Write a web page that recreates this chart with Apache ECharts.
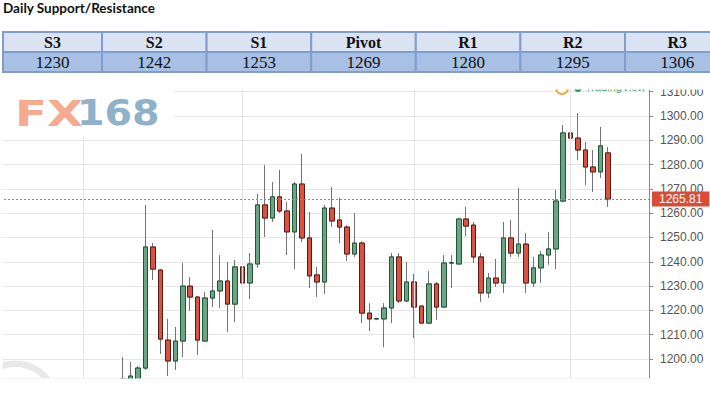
<!DOCTYPE html>
<html><head><meta charset="utf-8">
<script src="https://cdn.jsdelivr.net/npm/echarts@6/dist/echarts.min.js"></script>
<style>html,body{margin:0;padding:0;background:#fff;}#c{width:710px;height:396px;}</style>
</head><body><div id="c"></div>
<script>
// ---------- data ----------
const tableTitle = 'Daily Support/Resistance';
const levelNames = ['S3', 'S2', 'S1', 'Pivot', 'R1', 'R2', 'R3'];
const levelValues = [1230, 1242, 1253, 1269, 1280, 1295, 1306];

// daily gold candles (visible part of the chart), oldest first
const opens = [1188, 1189, 1190, 1196.3, 1246.1, 1236.6, 1207.8, 1199.2, 1207.4, 1230.0,
  1225.5, 1207.4, 1225.1, 1228.0, 1232.1, 1222.6, 1237.9, 1231.3, 1239.1, 1263.4,
  1258.0, 1266.7, 1260.9, 1252.3, 1272.0, 1249.8, 1234.6, 1231.7, 1262.1, 1257.2,
  1254.3, 1243.2, 1247.7, 1218.9, 1216.5, 1216.5, 1221.0, 1242.0, 1223.9, 1231.7,
  1221.8, 1214.8, 1230.9, 1221.4, 1239.5, 1239.1, 1257.6, 1255.1, 1242.0, 1227.2,
  1233.3, 1231.3, 1249.8, 1243.6, 1247.3, 1231.3, 1237.5, 1242.8, 1245.3, 1265.0,
  1293.0, 1290.9, 1286.0, 1279.0, 1277.0, 1284.8];
const closes = [1192, 1193, 1196.3, 1246.1, 1237.0, 1208.2, 1199.2, 1207.4, 1230.0, 1225.5,
  1207.8, 1225.1, 1228.0, 1232.1, 1222.6, 1237.9, 1231.3, 1239.1, 1263.4, 1258.0,
  1266.7, 1260.9, 1252.3, 1272.0, 1249.8, 1234.2, 1231.7, 1262.1, 1256.8, 1254.3,
  1243.2, 1247.7, 1218.9, 1216.5, 1216.6, 1221.0, 1242.0, 1223.9, 1231.7, 1221.4,
  1214.8, 1230.9, 1221.4, 1239.5, 1239.6, 1257.6, 1254.7, 1242.0, 1227.2, 1233.3,
  1231.3, 1249.8, 1243.6, 1247.3, 1231.3, 1237.5, 1242.8, 1245.3, 1265.0, 1293.0,
  1290.9, 1286.0, 1279.0, 1277.0, 1287.7, 1265.81];
const lows = [1185, 1186, 1187, 1195.5, 1232.5, 1202.1, 1193.0, 1195.5, 1200.8, 1219.8,
  1201.7, 1207.0, 1221.4, 1221.0, 1211.1, 1215.2, 1226.8, 1224.7, 1237.5, 1250.2,
  1256.4, 1260.1, 1242.8, 1237.0, 1248.1, 1229.2, 1225.5, 1226.8, 1254.3, 1247.7,
  1240.3, 1242.0, 1214.8, 1211.5, 1216.0, 1204.9, 1214.8, 1223.0, 1223.5, 1208.6,
  1214.5, 1214.5, 1216.1, 1221.0, 1229.2, 1239.0, 1250.6, 1239.5, 1223.5, 1225.1,
  1229.6, 1227.2, 1242.0, 1242.0, 1227.2, 1229.6, 1231.3, 1238.7, 1237.0, 1264.5,
  1288.1, 1281.9, 1271.6, 1268.7, 1274.5, 1262.6];
const highs = [1200.8, 1198.8, 1197.1, 1263.4, 1247.7, 1237.0, 1216.5, 1213.2, 1239.5, 1233.7,
  1226.0, 1227.6, 1253.1, 1242.8, 1239.9, 1240.7, 1248.1, 1243.6, 1267.9, 1279.8,
  1272.8, 1277.8, 1264.6, 1272.8, 1284.4, 1260.5, 1237.9, 1263.4, 1270.8, 1266.3,
  1255.0, 1260.1, 1248.5, 1223.0, 1217.0, 1223.0, 1243.6, 1243.6, 1239.9, 1235.0,
  1222.0, 1236.2, 1231.7, 1242.8, 1242.8, 1258.0, 1262.6, 1256.4, 1243.6, 1235.4,
  1241.2, 1256.4, 1257.2, 1270.4, 1251.9, 1242.0, 1244.4, 1252.3, 1269.6, 1296.3,
  1303.7, 1301.2, 1289.3, 1286.0, 1295.5, 1287.2];
const hiddenBarsBefore = 16;   // earlier sessions traded below the visible price range
const emptyBarsAfter = 5;      // right-hand padding of the chart
const currentPrice = 1265.81;
const monthStartIdx = [10.6, 32, 55, 76];
const yMin = 1192.2, yMax = 1311.5;

// ---------- build ----------
const total = hiddenBarsBefore + opens.length + emptyBarsAfter;
const categories = Array.from({length: total}, (_, i) => 'D' + (i + 1));
const fullData = opens.map((o, k) => [hiddenBarsBefore + k, o, closes[k], lows[k], highs[k]]);
const bodyData = opens.map((o, k) => [hiddenBarsBefore + k, o, closes[k],
  Math.min(o, closes[k]), Math.max(o, closes[k])]);

// table graphics
const colEdges = [3];
for (let k = 1; k <= levelNames.length; k++) colEdges.push(102 + (k - 1) * 104.6);
const graphics = [];
graphics.push({type: 'text', x: 3, y: 8, z: 30, style: {text: tableTitle, fill: '#111',
  font: 'bold 13.5px Lato, "Open Sans", sans-serif', textAlign: 'left', textVerticalAlign: 'middle'}});
levelNames.forEach((name, k) => {
  const x0 = colEdges[k], w = colEdges[k + 1] - colEdges[k];
  graphics.push({type: 'rect', z: 30, shape: {x: x0, y: 32, width: w, height: 20},
    style: {fill: '#d9e3f2', stroke: '#7f9dcd', lineWidth: 2}});
  graphics.push({type: 'rect', z: 30, shape: {x: x0, y: 52, width: w, height: 20},
    style: {fill: '#a8c0e3', stroke: '#7f9dcd', lineWidth: 2}});
  graphics.push({type: 'text', z: 31, x: x0 + w / 2, y: 42.5, style: {text: name, fill: '#111',
    font: 'bold 16px "Liberation Serif", "Times New Roman", serif', textAlign: 'center', textVerticalAlign: 'middle'}});
  graphics.push({type: 'text', z: 31, x: x0 + w / 2, y: 62, style: {text: String(levelValues[k]), fill: '#111',
    font: '17px "Liberation Serif", "Times New Roman", serif', textAlign: 'center', textVerticalAlign: 'middle'}});
});
// watermark logo
graphics.push({type: 'rect', z: 10, shape: {x: 0, y: 86, width: 174, height: 51}, style: {fill: '#fff'}});
graphics.push({type: 'text', z: 11, x: 15, y: 113, scaleX: 1.3, style: {text: 'FX', fill: '#f4ab90',
  font: 'bold 36px "DejaVu Sans", sans-serif', textAlign: 'left', textVerticalAlign: 'middle'}});
graphics.push({type: 'text', z: 11, x: 77, y: 113, scaleX: 1.1, style: {text: '168', fill: '#8fb1c9',
  font: 'bold 36px "DejaVu Sans", sans-serif', textAlign: 'left', textVerticalAlign: 'middle'}});
// faint ring watermark bottom-left
graphics.push({type: 'ring', z: 0, shape: {cx: 15, cy: 405, r: 44.5, r0: 38}, style: {fill: '#e8e8e8'}});
// top-right badge (mostly cut off)
graphics.push({type: 'circle', z: 5, shape: {cx: 562, cy: 88, r: 6}, style: {fill: '#fff', stroke: '#f0a540', lineWidth: 2}});
graphics.push({type: 'circle', z: 5, shape: {cx: 578, cy: 88, r: 4}, style: {fill: '#3f9a62'}});
graphics.push({type: 'text', z: 5, x: 585, y: 87, style: {text: 'TradingView', fill: '#4c9a6c',
  font: '11px Arial, sans-serif', textAlign: 'left', textVerticalAlign: 'middle'}});
// crop edges of the screenshot
graphics.push({type: 'rect', z: 20, shape: {x: 0, y: 73.5, width: 710, height: 16}, style: {fill: '#fff'}});
graphics.push({type: 'rect', z: 20, shape: {x: 0, y: 378.5, width: 710, height: 20}, style: {fill: '#fff'}});
graphics.push({type: 'rect', z: 10, shape: {x: 0, y: 86, width: 2.5, height: 294}, style: {fill: '#fff'}});

const gridLineStyle = {color: '#e3e3e3', type: 'solid', width: 1};
const priceLineStyle = {color: '#e8675a', type: [2, 2], width: 1};
const priceLabel = {show: true, position: 'end', distance: 3, formatter: currentPrice.toFixed(2),
  backgroundColor: '#dc4b35', color: '#fff', fontSize: 12, fontFamily: '"Liberation Sans", Arial, sans-serif',
  padding: [2, 7, 1, 7]};
const refLines = monthStartIdx.map(v => ({xAxis: v, lineStyle: gridLineStyle, label: {show: false}}));
refLines.push({yAxis: currentPrice, lineStyle: priceLineStyle, label: priceLabel});

const chart = echarts.init(document.getElementById('c'), null, {renderer: 'svg'});
chart.setOption({
  animation: false,
  backgroundColor: '#fff',
  grid: {left: 0, right: 61, top: 88, bottom: 18},
  xAxis: [
    {type: 'category', data: categories, boundaryGap: true,
      axisLine: {show: false}, axisTick: {show: false}, axisLabel: {show: false}, splitLine: {show: false}},
    {type: 'value', min: -0.5, max: total - 0.5, show: false,
      axisLine: {show: false}, splitLine: {show: false}}
  ],
  yAxis: {
    type: 'value', position: 'right', min: yMin, max: yMax, scale: true,
    splitNumber: 12, minInterval: 10, maxInterval: 10,
    axisLine: {show: true, onZero: false, lineStyle: {color: '#8a8a8a'}},
    axisTick: {show: true, length: 4, inside: false, lineStyle: {color: '#8a8a8a'}},
    axisLabel: {color: '#555', fontSize: 12, fontFamily: '"Liberation Sans", Arial, sans-serif', margin: 11,
      showMinLabel: false, showMaxLabel: false, formatter: v => v.toFixed(2)},
    splitLine: {show: true, lineStyle: {color: '#e6e6e6', width: 1}}
  },
  graphic: graphics,
  series: [
    {type: 'line', xAxisIndex: 1, yAxisIndex: 0, data: [], z: 5, silent: true,
      markLine: {silent: true, symbol: ['none', 'none'], animation: false,
        lineStyle: gridLineStyle, label: {show: false}, data: refLines}},
    {type: 'candlestick', name: 'wick', data: fullData, encode: {x: 0, y: [1, 2, 3, 4]},
      barWidth: 5, z: 3, silent: true,
      itemStyle: {color: '#6ba583', color0: '#d75442', borderColor: '#737375', borderColor0: '#737375', borderWidth: 1}},
    {type: 'candlestick', name: 'XAUUSD', data: bodyData, encode: {x: 0, y: [1, 2, 3, 4]},
      barWidth: 5, z: 4, silent: true,
      itemStyle: {color: '#6ba583', color0: '#d75442', borderColor: '#225437', borderColor0: '#5b1a13', borderWidth: 1}}
  ]
});
</script>
</body></html>
